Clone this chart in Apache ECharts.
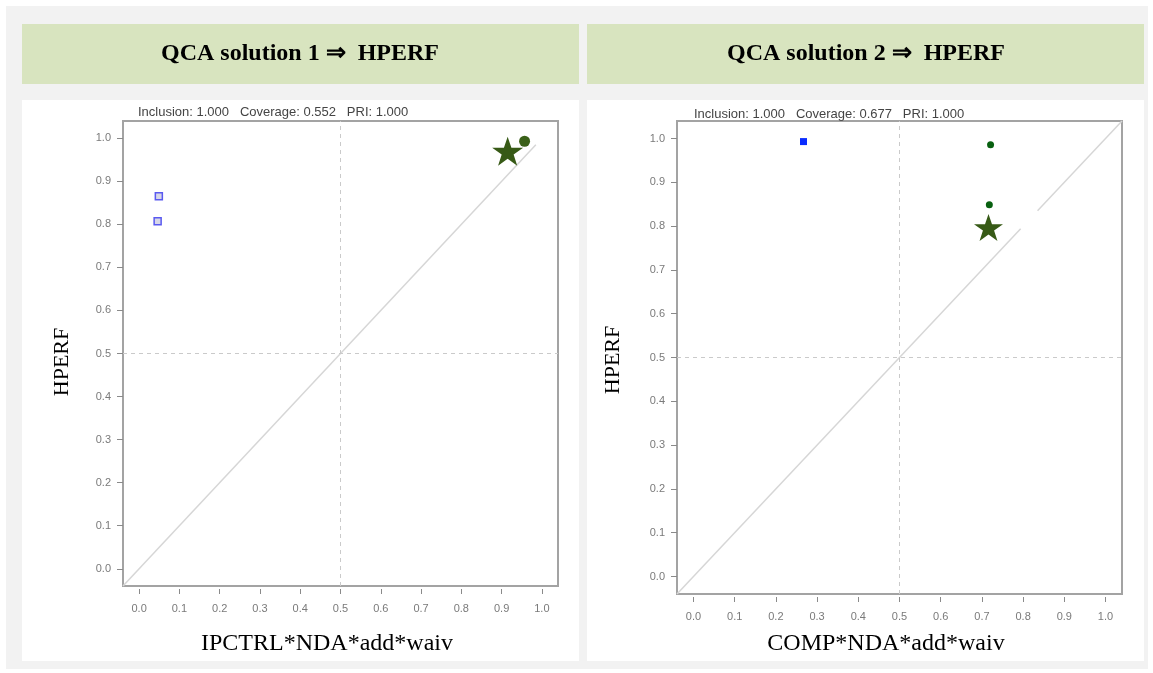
<!DOCTYPE html>
<html>
<head>
<meta charset="utf-8">
<script src="https://cdn.jsdelivr.net/npm/echarts@6/dist/echarts.min.js"></script>
<style>
  html, body { margin: 0; padding: 0; background: #fff; }
  #chart { width: 1153px; height: 673px; }
</style>
</head>
<body>
<div id="chart"></div>
<script>
// ===== QCA sufficiency plots (two solutions) =====

const SERIF = '"Liberation Serif","Times New Roman",serif';
const SANS = '"Liberation Sans",Arial,sans-serif';

const TICKS = [0.0, 0.1, 0.2, 0.3, 0.4, 0.5, 0.6, 0.7, 0.8, 0.9, 1.0];
const TITLES = ['QCA solution 1 \u21d2  HPERF', 'QCA solution 2 \u21d2  HPERF'];
const FIT_TEXT = [
  'Inclusion: 1.000   Coverage: 0.552   PRI: 1.000',
  'Inclusion: 1.000   Coverage: 0.677   PRI: 1.000'
];
const X_NAMES = ['IPCTRL*NDA*add*waiv', 'COMP*NDA*add*waiv'];
const Y_NAME = 'HPERF';

// solution 1 cases
const s1Open = [[0.049, 0.865], [0.046, 0.807]];
const s1Dots = [[0.957, 0.993]];
const s1Star = [[0.915, 0.970]];
const s1Diag = [[[-0.04, -0.04], [0.985, 0.985]]];

// solution 2 cases
const s2Blue = [[0.267, 0.993]];
const s2Dots = [[0.721, 0.986], [0.718, 0.849]];
const s2Star = [[0.716, 0.797]];
const s2Diag = [[[-0.04, -0.04], [0.794, 0.794]], [[0.835, 0.835], [1.04, 1.04]]];

const STAR = 'path://M50,0 L61.8,35.1 L98.9,35.1 L68.8,56.8 L80.2,91.9 L50,70.2 L19.8,91.9 L31.2,56.8 L1.1,35.1 L38.2,35.1 Z';

const GRIDS = [
  { left: 123, top: 121, width: 435, height: 465 },
  { left: 677, top: 121, width: 445, height: 473 }
];

function gridOpt(g) {
  return Object.assign({ show: true, borderColor: '#a3a3a3', borderWidth: 2, backgroundColor: '#fff' }, g);
}

function xAxisOpt(i) {
  return {
    type: 'value', gridIndex: i, position: 'bottom', min: -0.04, max: 1.04, offset: 3,
    axisLine: { show: false, onZero: false },
    axisTick: { show: true, customValues: TICKS, length: 5, lineStyle: { color: '#8a8a8a' } },
    axisLabel: { customValues: TICKS, formatter: v => v.toFixed(1), color: '#7a7a7a', fontSize: 11, fontFamily: SANS, margin: 14 },
    splitLine: { show: false }
  };
}

function yAxisOpt(i) {
  return {
    type: 'value', gridIndex: i, position: 'left', min: -0.04, max: 1.04,
    axisLine: { show: false, onZero: false },
    axisTick: { show: true, customValues: TICKS, length: 6, lineStyle: { color: '#8a8a8a' } },
    axisLabel: { customValues: TICKS, formatter: v => v.toFixed(1), color: '#7a7a7a', fontSize: 11, fontFamily: SANS, margin: 12 },
    splitLine: { show: false }
  };
}

function diagSeries(i, segs) {
  return segs.map((seg, k) => ({
    type: 'line', xAxisIndex: i, yAxisIndex: i, data: seg, symbol: 'none', silent: true,
    lineStyle: { color: '#d6d6d6', width: 1.5 },
    markLine: k ? undefined : {
      symbol: 'none', silent: true, label: { show: false },
      lineStyle: { color: '#cacaca', type: [4, 4], width: 1 },
      data: [{ xAxis: 0.5 }, { yAxis: 0.5 }]
    }
  }));
}

function scatter(i, data, sym, size, style) {
  return {
    type: 'scatter', xAxisIndex: i, yAxisIndex: i, data: data, symbol: sym, symbolSize: size,
    itemStyle: Object.assign({ opacity: 1 }, style), z: 5
  };
}

const series = [].concat(
  diagSeries(0, s1Diag),
  diagSeries(1, s2Diag),
  [
    scatter(0, s1Open, 'rect', 7, { color: 'rgba(205,205,225,0.8)', borderColor: '#5a5af0', borderWidth: 1.5 }),
    scatter(0, s1Dots, 'circle', 11, { color: '#3b6119' }),
    scatter(0, s1Star, STAR, [31, 29], { color: '#375a16' }),
    scatter(1, s2Blue, 'rect', 7, { color: '#0a2cff' }),
    scatter(1, s2Dots, 'circle', 7, { color: '#086010' }),
    scatter(1, s2Star, STAR, [29, 27], { color: '#375a16' })
  ]
);

function txt(x, y, text, font, extra) {
  return {
    type: 'text', x: x, y: y, silent: true,
    style: Object.assign({ text: text, font: font, fill: '#000', textAlign: 'center', textVerticalAlign: 'middle' }, extra || {})
  };
}

const graphic = [
  { type: 'rect', shape: { x: 6, y: 6, width: 1142, height: 663 }, style: { fill: '#f2f2f2' }, z: -10 },
  { type: 'rect', shape: { x: 22, y: 24, width: 557, height: 60 }, style: { fill: '#d8e4bf' }, z: -9 },
  { type: 'rect', shape: { x: 587, y: 24, width: 557, height: 60 }, style: { fill: '#d8e4bf' }, z: -9 },
  { type: 'rect', shape: { x: 22, y: 100, width: 557, height: 561 }, style: { fill: '#fff' }, z: -9 },
  { type: 'rect', shape: { x: 587, y: 100, width: 557, height: 561 }, style: { fill: '#fff' }, z: -9 },
  txt(300, 54, TITLES[0], 'bold 24px ' + SERIF),
  txt(866, 54, TITLES[1], 'bold 24px ' + SERIF),
  txt(138, 112, FIT_TEXT[0], '13px ' + SANS, { textAlign: 'left', fill: '#444' }),
  txt(694, 114, FIT_TEXT[1], '13px ' + SANS, { textAlign: 'left', fill: '#444' }),
  txt(327, 644, X_NAMES[0], '24px ' + SERIF),
  txt(886, 644, X_NAMES[1], '24px ' + SERIF),
  Object.assign(txt(0, 0, Y_NAME, '22px ' + SERIF), { x: 62, y: 362, rotation: Math.PI / 2 }),
  Object.assign(txt(0, 0, Y_NAME, '22px ' + SERIF), { x: 613, y: 360, rotation: Math.PI / 2 })
];

const chart = echarts.init(document.getElementById('chart'), null, { renderer: 'canvas' });
chart.setOption({
  animation: false,
  backgroundColor: '#fff',
  graphic: graphic,
  grid: GRIDS.map(gridOpt),
  xAxis: [xAxisOpt(0), xAxisOpt(1)],
  yAxis: [yAxisOpt(0), yAxisOpt(1)],
  series: series
});
</script>
</body>
</html>
